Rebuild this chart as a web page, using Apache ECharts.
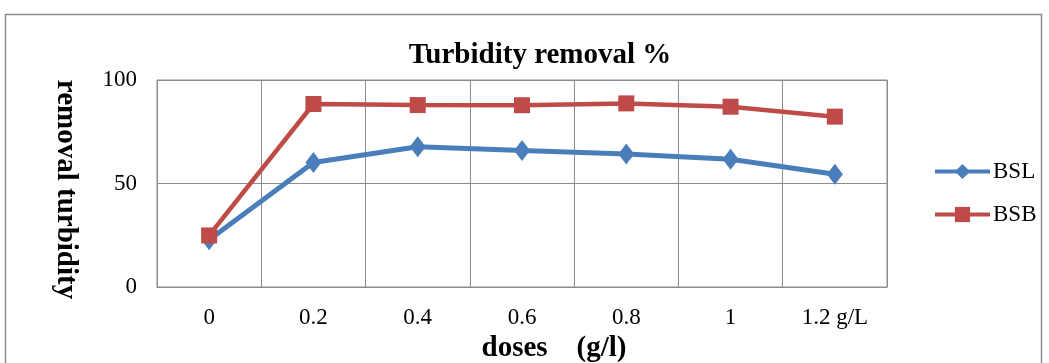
<!DOCTYPE html>
<html>
<head>
<meta charset="utf-8">
<script src="https://cdn.jsdelivr.net/npm/echarts@6/dist/echarts.min.js"></script>
<style>
  html, body { margin: 0; padding: 0; background: #fff; }
  #chart { width: 1049px; height: 363px; }
</style>
</head>
<body>
<div id="chart"></div>
<script>
const doses = ['0', '0.2', '0.4', '0.6', '0.8', '1', '1.2 g/L']
const bsl = [22.8, 60.1, 67.8, 65.9, 64.3, 61.7, 54.5]
const bsb = [24.9, 88.4, 87.9, 87.8, 88.7, 87.1, 82.3]
const yTicks = [0, 50, 100]

const serif = '"Liberation Serif", "DejaVu Serif", serif'
const gridColor = '#8c8c8c'

const chart = echarts.init(document.getElementById('chart'))
const option = {
  backgroundColor: '#fff',
  textStyle: { fontFamily: serif, color: '#000' },
  title: {
    text: 'Turbidity removal %',
    left: 535,
    textAlign: 'center',
    top: 36,
    textStyle: { fontFamily: serif, fontSize: 29, fontWeight: 'bold', color: '#000' }
  },
  graphic: [
    {
      type: 'rect',
      shape: { x: 5.5, y: 14.5, width: 1036, height: 400 },
      style: { fill: null, stroke: '#8c8c8c', lineWidth: 1.5 },
      silent: true
    }
  ],
  legend: {
    orient: 'vertical',
    left: 928,
    top: 155,
    itemGap: 20,
    itemWidth: 55,
    itemHeight: 19,
    data: ['BSL', 'BSB'],
    lineStyle: { width: 4 },
    textStyle: { fontFamily: serif, fontSize: 23, color: '#000', padding: [0, 0, 0, -2] }
  },
  grid: {
    left: 157, right: 162, top: 80, bottom: 76,
    outerBoundsMode: 'none',
    show: true, borderColor: gridColor, borderWidth: 1
  },
  xAxis: {
    type: 'category',
    data: doses,
    boundaryGap: true,
    name: 'doses    (g/l)',
    nameLocation: 'middle',
    nameGap: 44,
    nameTextStyle: { fontFamily: serif, fontSize: 29, fontWeight: 'bold', color: '#000', padding: [0, 0, 0, 64] },
    axisLine: { lineStyle: { color: gridColor } },
    axisTick: { show: false },
    axisLabel: { fontFamily: serif, fontSize: 23, color: '#000', margin: 19 },
    splitLine: { show: true, lineStyle: { color: gridColor, width: 1 } }
  },
  yAxis: {
    type: 'value',
    min: 0,
    max: yTicks[yTicks.length - 1],
    interval: 50,
    name: 'removal turbidity',
    nameLocation: 'middle',
    nameGap: 77,
    nameRotate: -90,
    nameTextStyle: { fontFamily: serif, fontSize: 29, fontWeight: 'bold', color: '#000', padding: [0, 0, 0, 12] },
    axisLine: { show: true, lineStyle: { color: gridColor } },
    axisTick: { show: false },
    axisLabel: { fontFamily: serif, fontSize: 23, color: '#000', margin: 20 },
    splitLine: { show: true, lineStyle: { color: gridColor, width: 1 } }
  },
  series: [
    {
      name: 'BSL',
      type: 'line',
      data: bsl,
      symbol: 'diamond',
      symbolSize: [16, 21],
      color: '#4a7ebb',
      lineStyle: { width: 5, color: '#4a7ebb' },
      itemStyle: { color: '#4a7ebb' },
      z: 2
    },
    {
      name: 'BSB',
      type: 'line',
      data: bsb,
      symbol: 'rect',
      symbolSize: 16,
      color: '#be4b48',
      lineStyle: { width: 4.5, color: '#be4b48' },
      itemStyle: { color: '#be4b48' },
      z: 3
    }
  ]
}
chart.setOption(option)
</script>
</body>
</html>
